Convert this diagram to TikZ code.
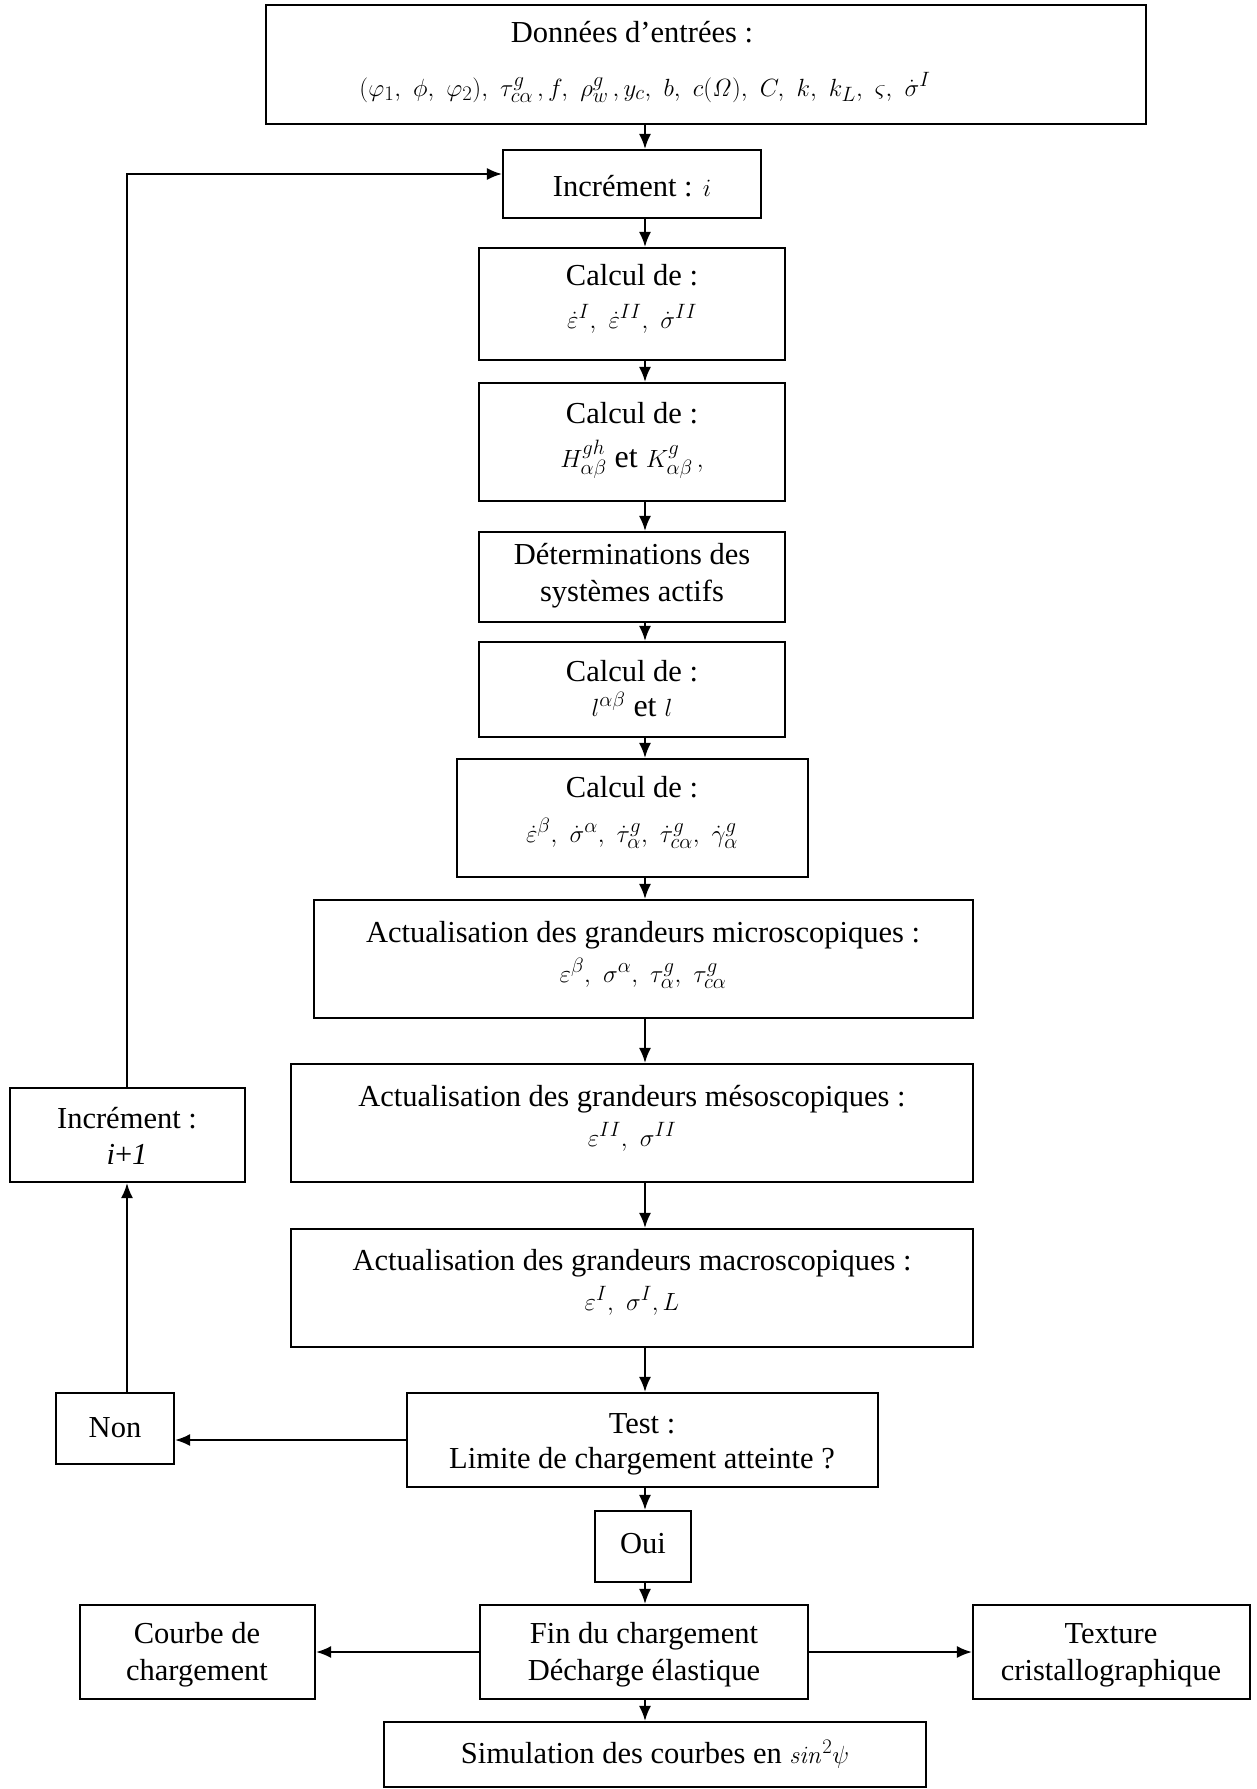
\documentclass[tikz,border=0pt]{standalone}
\usepackage[no-math]{fontspec}
\setmainfont{Liberation Serif}
\usetikzlibrary{arrows.meta}
\newcommand\mybox[5]{\node[box, minimum width={(#4-#2)*1pt}, minimum height={(#5-#3)*1pt}] (#1) at ({(#2+#4)/2},{(#3+#5)/2}) {};}
\begin{document}
\begin{tikzpicture}[x=1pt,y=-1pt,
  box/.style={draw, line width=2.2pt, inner sep=0pt},
  txt/.style={anchor=base, inner sep=0pt, font=\fontsize{30.5}{38}\selectfont},
  mtxt/.style={anchor=base, inner sep=0pt, font=\fontsize{32}{38}\selectfont},
  arr/.style={line width=1.8pt, -{Latex[length=15pt,width=12pt]}},
  ln/.style={line width=1.8pt}]
\useasboundingbox (0,0) rectangle (1257,1789);
\coordinate (axis) at (645,0);
\coordinate (loopx) at (127,174);

% boxes
\mybox{don}{266}{5}{1146}{124}
\mybox{inc}{503}{150}{761}{218}
\mybox{ca}{479}{248}{785}{360}
\mybox{cb}{479}{383}{785}{501}
\mybox{det}{479}{532}{785}{622}
\mybox{cc}{479}{642}{785}{737}
\mybox{cd}{457}{759}{808}{877}
\mybox{mic}{314}{900}{973}{1018}
\mybox{mes}{291}{1064}{973}{1182}
\mybox{mac}{291}{1229}{973}{1347}
\mybox{test}{407}{1393}{878}{1487}
\mybox{non}{56}{1393}{174}{1464}
\mybox{incb}{10}{1088}{245}{1182}
\mybox{oui}{595}{1511}{691}{1582}
\mybox{fin}{480}{1605}{808}{1699}
\mybox{cou}{80}{1605}{315}{1699}
\mybox{tex}{973}{1605}{1250}{1699}
\mybox{sim}{384}{1722}{926}{1787}

% texts
\node[txt] (donA) at (632,42) {Données d’entrées :};
\node[mtxt] (donB) at (645,96) {$(\varphi_1,\ \phi,\ \varphi_2),\ \tau^g_{c\alpha}\,,f,\ \rho^g_w\,,y_c,\ b,\ c(\mathit{\Omega}),\ C,\ k,\ k_L,\ \varsigma,\ \dot{\sigma}^I$};
\node[txt] (incA) at (632,196) {Incrément : $i$};
\node[txt] (caA) at (632,285) {Calcul de :};
\node[mtxt] (caB) at (632,328) {$\dot{\varepsilon}^I,\ \dot{\varepsilon}^{II},\ \dot{\sigma}^{II}$};
\node[txt] (cbA) at (632,423) {Calcul de :};
\node[mtxt] (cbB) at (632,467) {$H^{gh}_{\alpha\beta}$ \textrm{et} $K^{g}_{\alpha\beta}\,,$};
\node[txt] (detA) at (632,564) {Déterminations des};
\node[txt] (detB) at (632,601) {systèmes actifs};
\node[txt] (ccA) at (632,681) {Calcul de :};
\node[mtxt] (ccB) at (632,716) {$l^{\alpha\beta}$ et $l$};
\node[txt] (cdA) at (632,797) {Calcul de :};
\node[mtxt] (cdB) at (632,842) {$\dot{\varepsilon}^{\beta},\ \dot{\sigma}^{\alpha},\ \dot{\tau}^g_{\alpha},\ \dot{\tau}^g_{c\alpha},\ \dot{\gamma}^g_{\alpha}$};
\node[txt] (micA) at (643,942) {Actualisation des grandeurs microscopiques :};
\node[mtxt] (micB) at (643,982) {$\varepsilon^{\beta},\ \sigma^{\alpha},\ \tau^g_{\alpha},\ \tau^g_{c\alpha}$};
\node[txt] (mesA) at (632,1106) {Actualisation des grandeurs mésoscopiques :};
\node[mtxt] (mesB) at (632,1146) {$\varepsilon^{II},\ \sigma^{II}$};
\node[txt] (macA) at (632,1270) {Actualisation des grandeurs macroscopiques :};
\node[mtxt] (macB) at (632,1310) {$\varepsilon^{I},\ \sigma^{I}, L$};
\node[txt] (testA) at (642,1433) {Test :};
\node[txt] (testB) at (642,1468) {Limite de chargement atteinte ?};
\node[txt] (nonA) at (115,1437) {Non};
\node[txt] (incbA) at (127,1128) {Incrément :};
\node[txt] (incbB) at (127,1164) {\textit{i}+\textit{1}};
\node[txt] (ouiA) at (643,1553) {Oui};
\node[txt] (finA) at (644,1643) {Fin du chargement};
\node[txt] (finB) at (644,1680) {Décharge élastique};
\node[txt] (couA) at (197,1643) {Courbe de};
\node[txt] (couB) at (197,1680) {chargement};
\node[txt] (texA) at (1111,1643) {Texture};
\node[txt] (texB) at (1111,1680) {cristallographique};
\node[txt] (simA) at (655,1763) {Simulation des courbes en $\mathit{sin}^2\psi$};

% main column arrows
\draw[arr] (don.south -| axis) -- (inc.north -| axis);
\draw[arr] (inc.south -| axis) -- (ca.north -| axis);
\draw[arr] (ca.south -| axis) -- (cb.north -| axis);
\draw[arr] (cb.south -| axis) -- (det.north -| axis);
\draw[arr] (det.south -| axis) -- (cc.north -| axis);
\draw[arr] (cc.south -| axis) -- (cd.north -| axis);
\draw[arr] (cd.south -| axis) -- (mic.north -| axis);
\draw[arr] (mic.south -| axis) -- (mes.north -| axis);
\draw[arr] (mes.south -| axis) -- (mac.north -| axis);
\draw[arr] (mac.south -| axis) -- (test.north -| axis);
\draw[arr] (test.south -| axis) -- (oui.north -| axis);
\draw[arr] (oui.south -| axis) -- (fin.north -| axis);
\draw[arr] (fin.south -| axis) -- (sim.north -| axis);
\draw[arr] (fin.west) -- (cou.east);
\draw[arr] (fin.east) -- (tex.west);

% loop
\draw[arr] (test.west |- 0,1440) -- (non.east |- 0,1440);
\draw[arr] (non.north -| loopx) -- (incb.south -| loopx);
\draw[arr] (incb.north -| loopx) -- (loopx) -- (inc.west |- loopx);
\end{tikzpicture}
\end{document}
